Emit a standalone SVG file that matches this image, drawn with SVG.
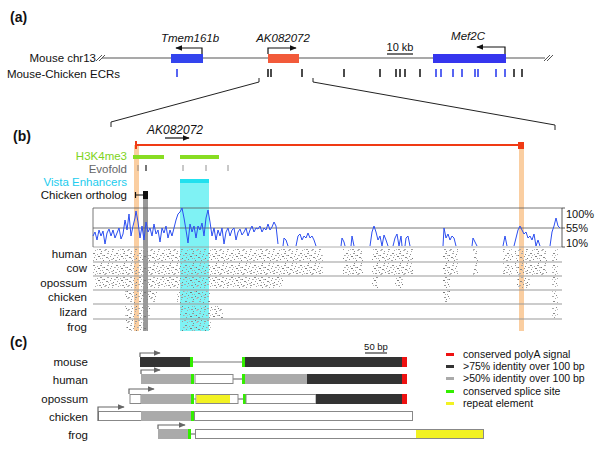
<svg xmlns="http://www.w3.org/2000/svg" width="600" height="451" viewBox="0 0 600 451">
<style>
text{font-family:"Liberation Sans",Arial,sans-serif;fill:#111;}
.pl{font-weight:bold;font-size:14px;}
.lab{font-size:11.5px;}
.it{font-style:italic;font-size:11.5px;}
.sp{font-size:11.5px;text-anchor:end;}
.leg{font-size:10.5px;}
.chr{stroke:#555;stroke-width:1.2;fill:none;}
.tk{stroke:#111;stroke-width:1.5;}
.bt{stroke:#2233ee;stroke-width:1.5;}
.zl{stroke:#222;stroke-width:1;fill:none;}
.cons{stroke:#2d4ff0;stroke-width:1;fill:none;}
.rl{stroke:#999;stroke-width:1;}
.aln{fill:url(#aln);}
.ar{stroke:#111;stroke-width:1.2;fill:none;}
.car{stroke:#666;stroke-width:1.2;fill:none;}
.bx{stroke:#888;stroke-width:1;}
</style>
<defs>
<marker id="ah" viewBox="0 0 10 10" refX="9" refY="5" markerWidth="6" markerHeight="6" orient="auto"><path d="M0,1 L10,5 L0,9 z" fill="#111"/></marker>
<marker id="ahg" viewBox="0 0 10 10" refX="9" refY="5" markerWidth="6" markerHeight="6" orient="auto"><path d="M0,1 L10,5 L0,9 z" fill="#666"/></marker>
<pattern id="aln" width="23" height="12" patternUnits="userSpaceOnUse">
<rect x="1" y="1" width="2" height="1" fill="#888"/><rect x="5" y="2" width="1" height="1" fill="#aaa"/><rect x="8" y="1" width="2" height="1" fill="#999"/>
<rect x="12" y="3" width="1" height="1" fill="#777"/><rect x="15" y="1" width="2" height="1" fill="#aaa"/><rect x="19" y="2" width="1" height="1" fill="#888"/>
<rect x="2" y="5" width="1" height="1" fill="#999"/><rect x="6" y="4" width="2" height="1" fill="#777"/><rect x="10" y="6" width="1" height="1" fill="#aaa"/>
<rect x="14" y="5" width="2" height="1" fill="#888"/><rect x="18" y="4" width="1" height="1" fill="#999"/><rect x="21" y="6" width="1" height="1" fill="#777"/>
<rect x="0" y="8" width="2" height="1" fill="#aaa"/><rect x="4" y="7" width="1" height="1" fill="#888"/><rect x="7" y="9" width="2" height="1" fill="#999"/>
<rect x="11" y="8" width="1" height="1" fill="#777"/><rect x="13" y="9" width="2" height="1" fill="#aaa"/><rect x="17" y="8" width="1" height="1" fill="#888"/>
<rect x="20" y="9" width="2" height="1" fill="#999"/><rect x="3" y="10" width="1" height="1" fill="#aaa"/><rect x="9" y="11" width="1" height="1" fill="#888"/>
<rect x="16" y="11" width="1" height="1" fill="#999"/><rect x="22" y="3" width="1" height="1" fill="#aaa"/>
<rect x="3" y="3" width="1" height="1" fill="#bbb"/><rect x="10" y="3" width="2" height="1" fill="#bbb"/><rect x="16" y="6" width="1" height="1" fill="#bbb"/>
<rect x="8" y="6" width="1" height="1" fill="#aaa"/><rect x="19" y="7" width="2" height="1" fill="#bbb"/><rect x="5" y="9" width="1" height="1" fill="#bbb"/>
<rect x="12" y="10" width="2" height="1" fill="#bbb"/><rect x="20" y="11" width="1" height="1" fill="#aaa"/><rect x="0" y="3" width="1" height="1" fill="#bbb"/>
</pattern>
</defs>

<g id="panel-a">
<text class="pl" x="10" y="22">(a)</text>
<text class="lab" x="96" y="62" text-anchor="end">Mouse chr13</text>
<text class="lab" x="120" y="78" text-anchor="end">Mouse-Chicken ECRs</text>
<line class="chr" x1="102" y1="58" x2="545" y2="58"/>
<path d="M96,61 L102,55 M99,61 L105,55 M544,61 L550,55 M547,61 L553,55" stroke="#555" stroke-width="1"/>
<g id="tmem161b">
<rect x="171" y="54" width="32" height="9" fill="#3344ee"/>
<path class="ar" d="M202,54 V48 H176" marker-end="url(#ah)"/>
<text class="it" x="190" y="42" text-anchor="middle">Tmem161b</text>
</g>
<g id="ak082072-a">
<rect x="268" y="54" width="31" height="9" fill="#f25a3a"/>
<path class="ar" d="M268,54 V48 H296" marker-end="url(#ah)"/>
<text class="it" x="283" y="42" text-anchor="middle">AK082072</text>
</g>
<g id="mef2c">
<rect x="433" y="54" width="73" height="9" fill="#3535ee"/>
<path class="ar" d="M505,54 V47 H477" marker-end="url(#ah)"/>
<text class="it" x="468" y="40" text-anchor="middle">Mef2C</text>
</g>
<g id="scale-10kb">
<line x1="387" y1="54" x2="413" y2="54" stroke="#111" stroke-width="1.2"/>
<text class="lab" x="400" y="51" text-anchor="middle" style="font-size:11px">10 kb</text>
</g>
<g id="ecrs">
<path class="bt" d="M177,69V77 M436,69V77 M441,69V77 M453,69V77 M462,69V77 M475,69V77 M478,69V77 M496,69V77 M505,69V77"/>
<path class="tk" d="M268,69V77 M271,69V77 M302,69V77 M344,69V77 M380,69V77 M396,69V77 M400,69V77 M405,69V77 M420,69V77 M514,69V77 M522,69V77"/>
</g>
<g id="zoom-lines">
<path class="zl" d="M259,78 V82 L111,122 V127"/>
<path class="zl" d="M313,78 V82 L555,125 V130"/>
</g>
</g>

<g id="panel-b">
<text class="pl" x="13" y="141">(b)</text>
<text class="it" x="175" y="134" text-anchor="middle" style="font-size:12px">AK082072</text>
<path class="ar" d="M165,138 H189" marker-end="url(#ah)"/>
<rect x="134" y="145" width="5" height="186" fill="#f9c590" opacity="0.85"/>
<rect x="519" y="149" width="5" height="182" fill="#f9c590" opacity="0.85"/>
<rect x="143" y="199" width="5" height="132" fill="#999"/>
<rect x="180" y="183" width="29" height="148" fill="#7ff2f4"/>
<g id="transcript">
<line x1="136" y1="145" x2="520" y2="145" stroke="#f03a14" stroke-width="1.8"/>
<rect x="135" y="141" width="2" height="8" fill="#f03a14"/>
<rect x="518" y="142" width="6" height="7" fill="#f03a14"/>
</g>
<g id="h3k4me3">
<text class="lab" x="127" y="160" text-anchor="end" style="fill:#7ed320">H3K4me3</text>
<rect x="133" y="155" width="31" height="4" fill="#88dd22"/>
<rect x="180" y="155" width="39" height="4" fill="#88dd22"/>
</g>
<g id="evofold">
<text class="lab" x="127" y="173" text-anchor="end" style="fill:#666">Evofold</text>
<path d="M138,165V171 M183,165V171 M206,165V171 M228,165V171" stroke="#777" stroke-width="0.8"/>
<path d="M146,165V171" stroke="#555" stroke-width="1.6"/>
</g>
<g id="vista">
<text class="lab" x="127" y="186" text-anchor="end" style="fill:#22ccee">Vista Enhancers</text>
<rect x="180" y="179" width="29" height="4" fill="#22e0ee"/>
</g>
<g id="chicken-ortholog">
<text class="lab" x="127" y="199" text-anchor="end">Chicken ortholog</text>
<path d="M135.5,192V198 M135,195H144" stroke="#111" stroke-width="1.2"/>
<rect x="143" y="191" width="5" height="8" fill="#111"/>
</g>
<g id="conservation">
<line x1="93" y1="208" x2="562" y2="208" stroke="#555" stroke-width="0.8"/>
<line x1="93" y1="228" x2="562" y2="228" stroke="#555" stroke-width="0.8"/>
<line x1="93" y1="247" x2="562" y2="247" stroke="#999" stroke-width="0.8"/>
<line x1="93" y1="208" x2="93" y2="247" stroke="#555" stroke-width="0.8"/>
<path d="M562,208V247 M562,208h3 M562,228h3 M562,247h3" stroke="#333" stroke-width="0.8"/>
<text class="lab" x="566" y="218" style="font-size:11px">100%</text>
<text class="lab" x="566" y="232" style="font-size:11px">55%</text>
<text class="lab" x="566" y="247" style="font-size:11px">10%</text>
<polyline class="cons" points="93,236 95,232 97,240 99,230 101,236 103,231 105,244 107,233 109,229 111,236 113,230 115,238 117,233 119,228 121,239 123,234 125,220 127,230 129,214 131,236 133,226 135,218 136,211 138,222 140,238 142,226 144,240 146,222 148,232 150,228 152,236 154,224 156,234 158,230 160,242 162,228 164,233 166,226 168,238 170,230 172,236 174,228 176,220 178,214 180,212 182,208 184,218 186,230 188,243 190,224 192,232 194,226 196,238 198,226 200,230 202,223 204,236 206,218 208,210 210,222 212,236 214,228 216,240 218,230 220,236 222,228 224,244 226,232 228,228 230,236 232,230 234,228 236,240 238,232 240,229 242,235 244,232 246,228 248,236 250,230 252,226 254,232 256,228 258,229 260,226 262,232 264,228 266,230 268,224 270,230 272,227 274,222 276,226 278,244"/>
<polyline class="cons" points="283,246 284,238 286,240 288,246"/>
<polyline class="cons" points="296,246 298,236 300,234 302,240 304,236 306,238 308,233 310,238 312,236 314,240 316,246"/>
<polyline class="cons" points="341,246 342,238 344,242 345,246"/>
<polyline class="cons" points="351,246 352,236 354,246"/>
<polyline class="cons" points="370,246 372,232 374,226 376,232 378,240 380,236 382,246 384,235 386,240 388,246"/>
<polyline class="cons" points="393,246 395,238 397,234 399,246 401,236 402,246"/>
<polyline class="cons" points="405,246 406,238 408,236 410,246"/>
<polyline class="cons" points="443,246 444,228 446,238 448,234 450,240 452,236 454,238 456,246"/>
<polyline class="cons" points="472,246 473,238 475,242 477,246"/>
<polyline class="cons" points="503,246 505,236 507,246"/>
<polyline class="cons" points="514,246 516,238 518,230 520,226 522,230 524,234 526,232 528,238 530,236 532,240 534,234 536,246 538,240 540,246"/>
<polyline class="cons" points="550,246 552,232 554,226 556,218 558,226 560,228"/>
</g>
<g id="alignment">
<path d="M93,262H562 M93,276H562 M93,290H562 M93,304H562 M93,319H562" class="rl"/>
<text class="sp" x="87" y="258">human</text>
<text class="sp" x="87" y="272">cow</text>
<text class="sp" x="87" y="287">opossum</text>
<text class="sp" x="87" y="301">chicken</text>
<text class="sp" x="87" y="316">lizard</text>
<text class="sp" x="87" y="331">frog</text>
<g id="aln-human" class="aln">
<rect x="93" y="249" width="207" height="12"/><rect x="300" y="249" width="23" height="12"/><rect x="343" y="249" width="20" height="12"/><rect x="372" y="249" width="41" height="12"/><rect x="443" y="249" width="15" height="12"/><rect x="473" y="249" width="5" height="12"/><rect x="503" y="249" width="10" height="12"/><rect x="515" y="249" width="32" height="12"/><rect x="552" y="249" width="6" height="12"/>
</g>
<g id="aln-cow" class="aln">
<rect x="93" y="263" width="207" height="12"/><rect x="300" y="263" width="23" height="12"/><rect x="343" y="263" width="20" height="12"/><rect x="372" y="263" width="41" height="12"/><rect x="443" y="263" width="15" height="12"/><rect x="473" y="263" width="5" height="12"/><rect x="503" y="263" width="10" height="12"/><rect x="515" y="263" width="32" height="12"/><rect x="552" y="263" width="6" height="12"/>
</g>
<g id="aln-opossum" class="aln">
<rect x="95" y="277" width="188" height="12"/><rect x="372" y="277" width="6" height="12"/><rect x="395" y="277" width="8" height="12"/><rect x="443" y="277" width="7" height="12"/><rect x="517" y="277" width="13" height="12"/><rect x="552" y="277" width="6" height="12"/>
</g>
<g id="aln-chicken" class="aln">
<rect x="125" y="291" width="32" height="12"/><rect x="177" y="291" width="33" height="12"/><rect x="443" y="291" width="7" height="12"/><rect x="552" y="291" width="6" height="12"/>
</g>
<g id="aln-lizard" class="aln">
<rect x="125" y="306" width="25" height="12"/><rect x="180" y="306" width="43" height="12"/><rect x="552" y="306" width="6" height="12"/>
</g>
<g id="aln-frog" class="aln">
<rect x="126" y="320" width="21" height="11"/><rect x="182" y="320" width="30" height="11"/>
</g>
</g>
</g>

<g id="panel-c">
<text class="pl" x="10" y="347">(c)</text>
<g id="scale-50bp">
<text x="376" y="350" text-anchor="middle" style="font-size:9.5px">50 bp</text>
<line x1="365" y1="353" x2="387" y2="353" stroke="#111" stroke-width="1"/>
</g>
<g id="c-mouse">
<text class="sp" x="88" y="366">mouse</text>
<line x1="193" y1="362" x2="243" y2="362" stroke="#777" stroke-width="1.2"/>
<rect x="140" y="357" width="51" height="10" fill="#333"/>
<rect x="190" y="357" width="3" height="10" fill="#33ee00"/>
<rect x="242" y="357" width="3" height="10" fill="#33ee00"/>
<rect x="245" y="357" width="157" height="10" fill="#333"/>
<rect x="402" y="357" width="5" height="10" fill="#ee1111"/>
<path class="car" d="M140,357V353H160" marker-end="url(#ahg)"/>
</g>
<g id="c-human">
<text class="sp" x="88" y="384">human</text>
<line x1="233" y1="379" x2="243" y2="379" stroke="#777" stroke-width="1.2"/>
<rect x="141" y="374" width="50" height="10" fill="#aaa"/>
<rect x="191" y="374" width="3" height="10" fill="#33ee00"/>
<rect x="195" y="374.5" width="38" height="9" fill="#fff" class="bx"/>
<rect x="242" y="374" width="3" height="10" fill="#33ee00"/>
<rect x="245" y="374" width="62" height="10" fill="#aaa"/>
<rect x="307" y="374" width="95" height="10" fill="#333"/>
<rect x="402" y="374" width="5" height="10" fill="#ee1111"/>
<path class="car" d="M141,374V370H160" marker-end="url(#ahg)"/>
</g>
<g id="c-opossum">
<text class="sp" x="88" y="403">opossum</text>
<line x1="194" y1="399" x2="196" y2="399" stroke="#777" stroke-width="1.2"/>
<line x1="238" y1="399" x2="243" y2="399" stroke="#777" stroke-width="1.2"/>
<rect x="130" y="394.5" width="11" height="9" fill="#fff" class="bx"/>
<rect x="141" y="394" width="50" height="10" fill="#aaa"/>
<rect x="191" y="394" width="3" height="10" fill="#33ee00"/>
<rect x="196" y="394.5" width="42" height="9" fill="#fff" class="bx"/>
<rect x="196.5" y="395" width="33.5" height="8" fill="#f2f222"/>
<rect x="243" y="394" width="3" height="10" fill="#33ee00"/>
<rect x="246" y="394.5" width="70" height="9" fill="#fff" class="bx"/>
<rect x="316" y="394" width="86" height="10" fill="#333"/>
<rect x="402" y="394" width="5" height="10" fill="#ee1111"/>
<path class="car" d="M129,394V389H154" marker-end="url(#ahg)"/>
</g>
<g id="c-chicken">
<text class="sp" x="88" y="421">chicken</text>
<rect x="98.5" y="411.5" width="43" height="9" fill="#fff" class="bx"/>
<rect x="141" y="411" width="50" height="10" fill="#aaa"/>
<rect x="191" y="411" width="3" height="10" fill="#33ee00"/>
<rect x="194.5" y="411.5" width="218" height="9" fill="#fff" class="bx"/>
<path class="car" d="M98,421V407H124" marker-end="url(#ahg)"/>
</g>
<g id="c-frog">
<text class="sp" x="88" y="439">frog</text>
<line x1="191" y1="434" x2="195" y2="434" stroke="#777" stroke-width="1.2"/>
<rect x="158" y="429" width="30" height="10" fill="#aaa"/>
<rect x="188" y="429" width="3" height="10" fill="#33ee00"/>
<rect x="195.5" y="429.5" width="288" height="9" fill="#fff" class="bx"/>
<rect x="416" y="430" width="67" height="8" fill="#f2f222"/>
<path class="car" d="M158,429V425H185" marker-end="url(#ahg)"/>
</g>
<g id="legend">
<rect x="446" y="353" width="8" height="3" fill="#ee1111"/>
<text class="leg" x="463" y="358">conserved polyA signal</text>
<rect x="446" y="365" width="8" height="3" fill="#333"/>
<text class="leg" x="463" y="370">&gt;75% identity over 100 bp</text>
<rect x="446" y="377" width="8" height="3" fill="#aaa"/>
<text class="leg" x="463" y="382">&gt;50% identity over 100 bp</text>
<rect x="446" y="390" width="8" height="3" fill="#33ee00"/>
<text class="leg" x="463" y="395">conserved splice site</text>
<rect x="446" y="402" width="8" height="3" fill="#f2f222"/>
<text class="leg" x="463" y="407">repeat element</text>
</g>
</g>
</svg>
